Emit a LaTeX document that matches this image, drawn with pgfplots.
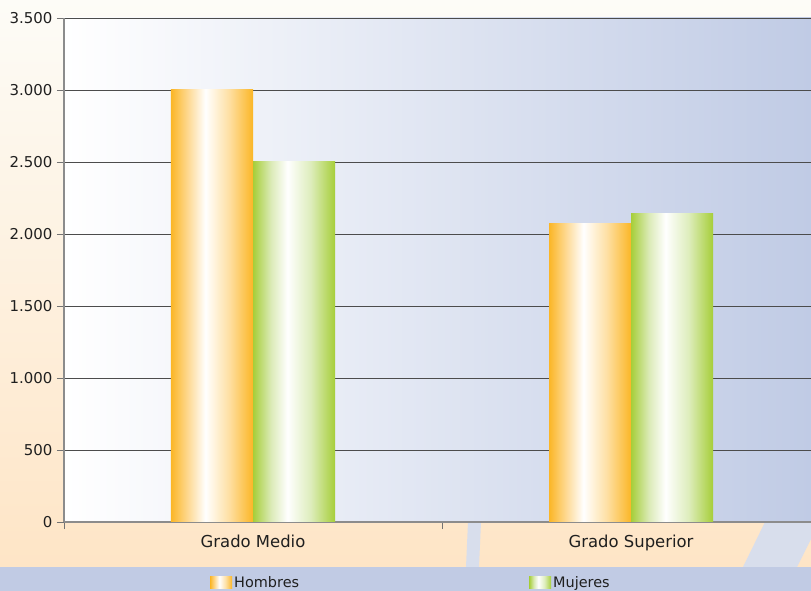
\documentclass[border=0pt]{standalone}
\usepackage{fontspec}
\setmainfont{DejaVu Sans}
\usepackage{pgfplots}
\pgfplotsset{compat=1.18}

\definecolor{bgtop}{HTML}{FDFCF7}
\definecolor{bgbot}{HTML}{FEE5C6}
\definecolor{band}{HTML}{C1CBE4}
\definecolor{plotr}{HTML}{C0CBE5}
\definecolor{strip}{HTML}{D8DEEC}

\pgfdeclarehorizontalshading{hombres}{100bp}{rgb(0bp)=(0.984,0.714,0.149); rgb(25bp)=(0.984,0.714,0.149); rgb(36bp)=(0.996,0.86,0.6); rgb(46bp)=(1,1,1); rgb(60bp)=(0.996,0.88,0.65); rgb(75bp)=(0.984,0.714,0.149); rgb(100bp)=(0.984,0.714,0.149)}
\pgfdeclarehorizontalshading{mujeres}{100bp}{rgb(0bp)=(0.651,0.808,0.224); rgb(25bp)=(0.651,0.808,0.224); rgb(36bp)=(0.86,0.92,0.72); rgb(46bp)=(1,1,1); rgb(60bp)=(0.87,0.93,0.74); rgb(75bp)=(0.651,0.808,0.224); rgb(100bp)=(0.651,0.808,0.224)}

\begin{document}
\begin{tikzpicture}
\useasboundingbox (0,0) rectangle (811bp,591bp);
\fill[top color=bgtop, bottom color=bgbot] (0,24bp) rectangle (811bp,591bp);
\fill[band] (0,0) rectangle (811bp,24bp);
\fill[strip] (466bp,24bp) -- (479bp,24bp) -- (481bp,69bp) -- (468bp,69bp) -- cycle;
\fill[strip] (743bp,24bp) -- (797bp,24bp) -- (811bp,52bp) -- (811bp,69bp) -- (765bp,69bp) -- cycle;
\begin{axis}[
  at={(64bp,69bp)}, anchor=south west, scale only axis,
  width=747bp, height=504bp,
  xmin=-0.5, xmax=1.476, ymin=0, ymax=3500,
  ybar, bar width=0.217,
  ytick={0,500,...,3500},
  ymajorgrids, grid style={draw=black!70, line width=0.9bp},
  axis lines*=left, axis line style={draw=black!45, line width=1.2bp},
  tick align=outside, major tick length=7bp,
  tick style={draw=black!55, line width=0.8bp},
  xtick={-0.5,0.5}, xticklabels={},
  extra x ticks={0,1}, extra x tick labels={Grado Medio, Grado Superior},
  extra x tick style={major tick length=0pt, grid=none,
    tick label style={font=\fontsize{16.5}{18}\selectfont, text=black!88, yshift=-9bp}},
  yticklabel style={font=\fontsize{15}{17}\selectfont, text=black!88, xshift=-1bp},
  axis background/.style={left color=white, right color=plotr},
  legend style={at={(0.4645,-0.120)}, anchor=center, draw=none, fill=none,
    font=\fontsize{14.5}{16}\selectfont, text=black!88},
  legend columns=2,
  legend cell align=left,
  /tikz/every even column/.append style={column sep=228bp},
  /pgf/number format/1000 sep={.},
  /pgf/number format/assume math mode=true,
]
\addplot[draw=none, shading=hombres, bar shift=-0.1085,
  legend image code/.code={\shade[shading=hombres] (0bp,-6bp) rectangle (22bp,6bp);}]
  coordinates {(0,3000)};
\addlegendentry{Hombres}
\addplot[draw=none, shading=mujeres, bar shift=0.1085,
  legend image code/.code={\shade[shading=mujeres] (0bp,-6bp) rectangle (22bp,6bp);}]
  coordinates {(0,2500)};
\addlegendentry{Mujeres}
\addplot[draw=none, shading=hombres, bar shift=-0.1085, forget plot]
  coordinates {(1,2070)};
\addplot[draw=none, shading=mujeres, bar shift=0.1085, forget plot]
  coordinates {(1,2145)};
\end{axis}
\end{tikzpicture}
\end{document}
